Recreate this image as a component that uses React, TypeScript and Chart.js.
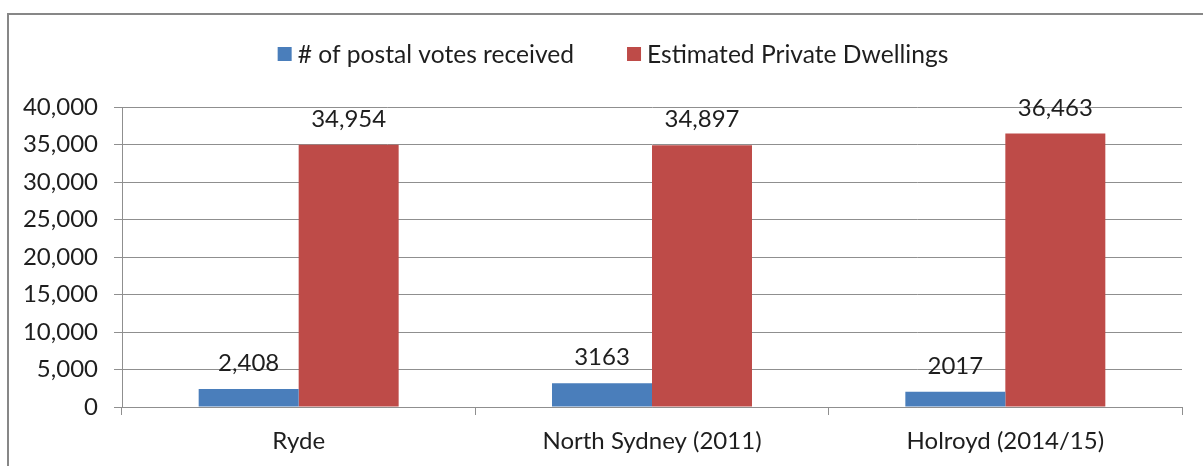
import React, { useEffect, useRef } from "react";
import { Chart, registerables } from "chart.js";

Chart.register(...registerables);

const categories = ["Ryde", "North Sydney (2011)", "Holroyd (2014/15)"];
const postalVotes = [2408, 3163, 2017];
const dwellings = [34954, 34897, 36463];
const postalLabels = ["2,408", "3163", "2017"];
const dwellingLabels = ["34,954", "34,897", "36,463"];
const seriesNames = ["# of postal votes received", "Estimated Private Dwellings"];
const yTicks = [0, 5000, 10000, 15000, 20000, 25000, 30000, 35000, 40000];

const FONT = "Lato, 'Open Sans', sans-serif";
const FONT_SIZE = 24;
const LEGEND_FONT_SIZE = 24.6;
const TEXT = "#1e1e1e";
const GRID = "#8f8f8f";
const BLUE = "#4A7EBB";
const RED = "#BE4B48";

const frame = {
  id: "frame",
  beforeDraw(chart: any) {
    const { ctx } = chart;
    ctx.save();
    ctx.fillStyle = "#ffffff";
    ctx.fillRect(0, 0, chart.width, chart.height);
    ctx.strokeStyle = "#878787";
    ctx.lineWidth = 2;
    ctx.beginPath();
    ctx.moveTo(8, chart.height + 2);
    ctx.lineTo(8, 14);
    ctx.lineTo(chart.width + 2, 14);
    ctx.stroke();
    ctx.restore();
  },
};

const customLegend = {
  id: "customLegend",
  afterDraw(chart: any) {
    const { ctx } = chart;
    ctx.save();
    ctx.font = `${LEGEND_FONT_SIZE}px ${FONT}`;
    ctx.textBaseline = "middle";
    const box = 14;
    const gapBoxText = 6;
    const gapItems = 53;
    const items = chart.data.datasets.map((d: any) => ({
      label: d.label,
      color: d.backgroundColor,
      w: ctx.measureText(d.label).width,
    }));
    let total = 0;
    items.forEach((it: any, i: number) => {
      total += box + gapBoxText + it.w + (i < items.length - 1 ? gapItems : 0);
    });
    let x = 613 - total / 2;
    const cy = 54;
    items.forEach((it: any) => {
      ctx.fillStyle = it.color;
      ctx.fillRect(x, cy - box / 2, box, box);
      x += box + gapBoxText;
      ctx.fillStyle = TEXT;
      ctx.textAlign = "left";
      ctx.fillText(it.label, x, cy + 1);
      x += it.w + gapItems;
    });
    ctx.restore();
  },
};

const barLabels = {
  id: "barLabels",
  afterDatasetsDraw(chart: any) {
    const { ctx } = chart;
    const labelSets = [postalLabels, dwellingLabels];
    ctx.save();
    ctx.font = `${FONT_SIZE}px ${FONT}`;
    ctx.fillStyle = TEXT;
    ctx.textAlign = "center";
    ctx.textBaseline = "alphabetic";
    chart.data.datasets.forEach((_d: any, di: number) => {
      const meta = chart.getDatasetMeta(di);
      meta.data.forEach((el: any, i: number) => {
        ctx.fillText(labelSets[di][i], el.x, el.y - 18);
      });
    });
    ctx.restore();
  },
};

export default function App() {
  const ref = useRef<HTMLCanvasElement>(null);
  useEffect(() => {
    if (!ref.current) return;
    const chart = new Chart(ref.current, {
      type: "bar",
      data: {
        labels: categories,
        datasets: [
          {
            label: seriesNames[0],
            data: postalVotes,
            backgroundColor: BLUE,
            categoryPercentage: 0.566,
            barPercentage: 1,
          },
          {
            label: seriesNames[1],
            data: dwellings,
            backgroundColor: RED,
            categoryPercentage: 0.566,
            barPercentage: 1,
          },
        ],
      },
      options: {
        responsive: false,
        animation: false,
        layout: { padding: { top: 107, right: 21, left: 0, bottom: 0 } },
        plugins: {
          legend: { display: false },
          tooltip: { enabled: false },
        },
        scales: {
          x: {
            grid: {
              offset: true,
              drawOnChartArea: false,
              drawTicks: true,
              tickLength: 8,
              color: GRID,
            },
            border: { display: true, color: GRID },
            ticks: {
              color: TEXT,
              font: { family: FONT, size: FONT_SIZE },
              padding: 12,
              maxRotation: 0,
            },
            afterFit(scale: any) {
              scale.height = 59;
            },
          },
          y: {
            min: 0,
            max: 40000,
            afterBuildTicks(scale: any) {
              scale.ticks = yTicks.map((v) => ({ value: v }));
            },
            grid: {
              color: GRID,
              drawTicks: true,
              tickLength: 8,
            },
            border: { display: true, color: GRID },
            ticks: {
              color: TEXT,
              font: { family: FONT, size: FONT_SIZE },
              padding: 16,
              callback: (v: any) => Number(v).toLocaleString("en-US"),
            },
            afterFit(scale: any) {
              scale.width = 122;
            },
          },
        },
      },
      plugins: [frame, customLegend, barLabels],
    });
    return () => chart.destroy();
  }, []);
  return (
    <div style={{ position: "fixed", left: 0, top: 0, width: 1203, height: 466 }}>
      <canvas ref={ref} width={1203} height={466} />
    </div>
  );
}
